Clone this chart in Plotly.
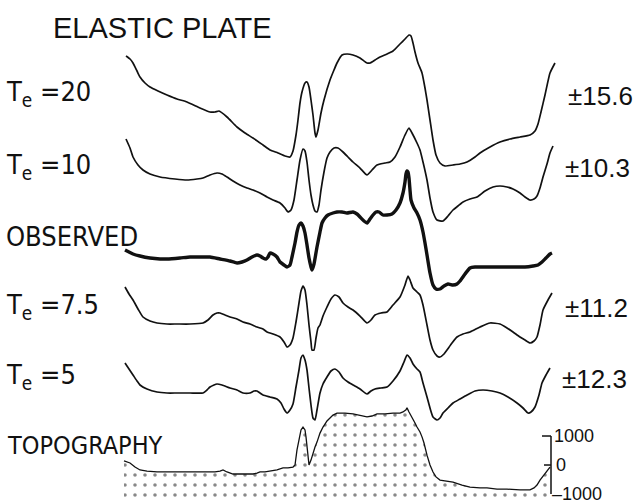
import plotly.graph_objects as go

# Distance along the profile (km) and gravity anomaly (mGal) for each model
te20_km = [1, 5, 8, 12, 15, 20, 25, 33, 42, 52, 62, 75, 85, 90, 94, 102, 112, 120, 128, 138, 145, 153, 160, 165,
           168, 171, 173, 175, 177, 180, 182, 184, 186, 188, 190, 191, 193, 196, 199, 205, 209, 212, 217, 222, 228,
           235, 242, 245, 250, 255, 262, 268, 275, 280, 284, 286, 288, 290, 293, 297, 300, 302, 305, 308, 311, 315,
           320, 328, 335, 342, 350, 355, 365, 375, 385, 395, 405, 410, 413, 416, 420, 425, 430]
te20_mgal = [54, 51, 47, 39, 33, 27, 23, 19, 15, 11, 8, 2, -2, -2, -1, -7, -17, -23, -28, -35, -40, -43, -46, -47,
             -41, -25, -10, 7, 18, 27, 28, 23, 10, -5, -23, -27, -20, -3, 10, 30, 40, 47, 55, 56, 55,
             52, 47, 47, 50, 53, 56, 59, 66, 71, 75, 74, 67, 58, 47, 37, 22, 10, -10, -30, -45, -53,
             -56, -55, -54, -52, -47, -43, -37, -32, -29, -27, -25, -21, -14, -2, 15, 37, 47]

te10_km = [1, 5, 8, 13, 18, 25, 35, 50, 62, 72, 78, 85, 92, 97, 102, 108, 115, 122, 128, 135, 142, 148, 155, 160,
           163, 166, 169, 172, 175, 178, 180, 182, 184, 186, 188, 190, 192, 194, 196, 199, 202, 205, 209, 213, 218,
           223, 228, 235, 242, 247, 252, 260, 265, 270, 275, 280, 284, 287, 292, 295, 298, 302, 305, 308, 312, 318,
           323, 328, 333, 338, 345, 352, 360, 368, 375, 382, 388, 395, 400, 405, 409, 412, 415, 418, 422, 425, 428]
te10_mgal = [41, 32, 23, 15, 10, 6, 3, 1, 0, 1, 2, 5, 7, 6, 3, -1, -5, -8, -10, -13, -17, -20, -23, -28,
             -32, -30, -20, 0, 20, 31, 29, 18, 0, -15, -25, -31, -32, -25, -10, 8, 22, 28, 32, 32, 28,
             23, 18, 12, 5, 10, 15, 17, 18, 23, 33, 45, 52, 47, 37, 30, 18, 0, -18, -32, -40, -41,
             -36, -30, -26, -22, -19, -17, -11, -7, -6, -7, -9, -13, -17, -20, -19, -16, -8, 3, 16, 27, 34]

obs_km = [0, 4, 8, 15, 25, 35, 42, 55, 65, 75, 85, 95, 105, 112, 117, 122, 127, 132, 135, 138, 141, 143, 145, 148,
          152, 155, 159, 162, 165, 167, 170, 172, 174, 176, 178, 180, 182, 184, 186, 187, 189, 192, 195, 197, 200,
          203, 208, 212, 217, 222, 228, 232, 235, 239, 242, 245, 248, 251, 254, 258, 262, 267, 271, 275, 278, 280,
          281, 282, 283, 284, 285, 286, 289, 292, 295, 298, 300, 302, 305, 308, 311, 315, 319, 323, 328, 332, 335,
          340, 345, 350, 362, 375, 388, 400, 408, 413, 417, 421, 425, 427]
obs_mgal = [0, -2, -4, -6, -8, -9, -9, -8, -7, -7, -7, -9, -11, -13, -12, -10, -7, -5, -6, -8, -9, -7, -3, -4,
            -7, -12, -15, -17, -15, -7, 7, 18, 25, 27, 24, 17, 5, -8, -17, -20, -14, 3, 18, 27, 32,
            35, 37, 38, 38, 37, 38, 36, 33, 29, 27, 31, 35, 38, 38, 35, 35, 36, 40, 47, 57, 68,
            76, 79, 78, 72, 60, 50, 42, 37, 30, 18, 7, -5, -23, -35, -39, -39, -36, -34, -35, -34, -31,
            -24, -18, -17, -17, -17, -17, -17, -16, -15, -12, -8, -4, -3]

te75_km = [0, 4, 8, 13, 18, 25, 32, 42, 52, 65, 78, 83, 88, 92, 95, 100, 105, 112, 118, 125, 132, 138, 142, 148,
           155, 159, 162, 165, 168, 171, 174, 176, 178, 180, 182, 184, 186, 187, 189, 191, 193, 195, 198, 202, 206,
           210, 214, 218, 223, 228, 235, 242, 246, 250, 256, 262, 268, 275, 280, 283, 285, 288, 292, 295, 298, 302,
           305, 308, 312, 315, 319, 322, 327, 332, 338, 345, 355, 365, 375, 382, 388, 395, 400, 405, 409, 412, 415,
           418, 423, 427]
te75_mgal = [33, 26, 20, 11, 3, -1, -3, -4, -4, -4, -3, 0, 5, 7, 7, 5, 3, 1, -2, -4, -7, -9, -12, -14,
             -17, -22, -27, -25, -18, -2, 17, 29, 34, 30, 15, -5, -22, -30, -30, -18, -8, -5, 4, 13, 21,
             25, 23, 17, 13, 10, 4, -3, 0, 5, 7, 8, 15, 23, 35, 44, 40, 32, 28, 25, 15, -5,
             -20, -30, -36, -37, -34, -30, -23, -17, -14, -12, -7, -3, -4, -8, -12, -17, -20, -23, -21, -17, -5,
             10, 20, 27]

te5_km = [0, 4, 8, 12, 15, 22, 32, 42, 52, 65, 78, 82, 85, 89, 92, 97, 105, 112, 118, 125, 129, 132, 135, 138,
          145, 152, 156, 159, 162, 165, 168, 171, 174, 176, 178, 180, 182, 184, 186, 188, 190, 192, 195, 198, 202,
          206, 210, 214, 218, 223, 228, 235, 242, 246, 250, 256, 262, 268, 275, 279, 282, 285, 288, 292, 295, 298,
          302, 305, 308, 312, 315, 318, 323, 328, 335, 342, 350, 358, 367, 375, 383, 392, 398, 403, 406, 410, 414,
          417, 421, 425]
te5_mgal = [27, 21, 15, 9, 5, 1, -2, -3, -3, -3, -3, 0, 3, 5, 6, 5, 2, 0, -3, -3, -1, -1, -3, -5,
            -7, -9, -13, -19, -23, -20, -14, 3, 20, 32, 35, 30, 20, 2, -15, -28, -30, -20, -3, 6, 13,
            19, 21, 18, 12, 8, 5, 1, -4, -1, 1, 2, 3, 9, 19, 28, 35, 32, 26, 21, 18, 7,
            -7, -18, -27, -30, -28, -23, -18, -13, -9, -5, -1, 0, -1, -3, -7, -13, -18, -23, -22, -17, -5,
            7, 15, 22]

# Topography (m) along the same profile
topo_km = [-1, 2, 5, 10, 15, 22, 32, 45, 55, 70, 82, 90, 95, 98, 102, 108, 120, 128, 132, 135, 140, 145, 152, 158,
           163, 168, 170, 172, 174, 176, 178, 180, 181, 183, 184, 186, 188, 190, 192, 195, 198, 202, 205, 208, 212,
           220, 228, 235, 242, 247, 252, 260, 268, 275, 278, 281, 282, 284, 287, 290, 292, 295, 297, 299, 302, 305,
           308, 311, 315, 322, 328, 337, 345, 355, 362, 372, 382, 395, 405, 409, 412, 415, 418, 421, 423, 425]
topo_m = [140, 100, 70, -70, -170, -210, -240, -240, -240, -240, -240, -240, -210, -170, -240, -310, -310, -310, -280,
          -240, -240, -210, -170, -100, -100, -70, 0, 520, 930, 1210, 1310, 1210, 970, 340, 0, 170, 410, 620, 790,
          1100, 1310, 1520, 1620, 1720, 1790, 1790, 1760, 1720, 1660, 1690, 1760, 1760, 1790, 1790, 1830, 1900, 1970,
          1830, 1660, 1450, 1310, 1140, 970, 760, 340, 0, -240, -410, -520, -550, -590, -690, -760, -790, -790, -830,
          -830, -860, -860, -790, -690, -520, -380, -240, -140, -70]

# Profile order (top to bottom), labels and rms misfit
profile_names = ["Te = 20", "Te = 10", "Observed", "Te = 7.5", "Te = 5"]
misfits = ["±15.6", "±10.3", None, "±11.2", "±12.3"]
scale_ticks_m = [1000, 0, -1000]

profiles = [
    (te20_km, te20_mgal), (te10_km, te10_mgal), (obs_km, obs_mgal),
    (te75_km, te75_mgal), (te5_km, te5_mgal),
]
stack_offsets = [393, 323, 253, 183, 113]
line_widths = [1.7, 1.7, 3.4, 1.7, 1.7]

INK = "#111111"
W, H = 640, 503
NARROW = "Liberation Sans Narrow, DejaVu Sans Condensed, Liberation Sans, sans-serif"
REGULAR = "Liberation Sans, Arial, sans-serif"

fig = go.Figure()

for (km, mgal), off, lw, name in zip(profiles, stack_offsets, line_widths, profile_names):
    fig.add_trace(go.Scatter(
        x=km, y=[off + g for g in mgal], mode="lines", name=name,
        line=dict(color=INK, width=lw, shape="spline", smoothing=0.5),
        hoverinfo="skip", showlegend=False,
    ))

# stippled topography: fill between a floor and the surface
floor_m = -1300
fig.add_trace(go.Scatter(
    x=[topo_km[0], topo_km[-1]], y=[floor_m, floor_m], yaxis="y2",
    mode="lines", line=dict(width=0, color="rgba(0,0,0,0)"),
    hoverinfo="skip", showlegend=False,
))
fig.add_trace(go.Scatter(
    x=topo_km, y=topo_m, yaxis="y2", mode="lines", fill="tonexty",
    line=dict(color=INK, width=1.3),
    fillcolor="white",
    fillpattern=dict(shape=".", fgcolor=INK, bgcolor="white", size=10, solidity=0.1),
    hoverinfo="skip", showlegend=False,
))

# elevation scale bar
bar_km = 426
fig.add_shape(type="line", xref="x", yref="y2", x0=bar_km, x1=bar_km,
              y0=scale_ticks_m[0], y1=scale_ticks_m[-1], line=dict(color=INK, width=1.5))
fig.add_shape(type="line", xref="x", yref="y2", x0=bar_km - 9, x1=bar_km,
              y0=scale_ticks_m[0], y1=scale_ticks_m[0], line=dict(color=INK, width=1.5))
fig.add_shape(type="line", xref="x", yref="y2", x0=bar_km - 7, x1=bar_km,
              y0=scale_ticks_m[1], y1=scale_ticks_m[1], line=dict(color=INK, width=1.5))
tick_dx = {1000: 1, 0: 3, -1000: -1}
for v in scale_ticks_m:
    fig.add_annotation(x=bar_km + tick_dx[v], y=v, xref="x", yref="y2",
                       text=str(v).replace("-", "\u2013"), showarrow=False, xanchor="left",
                       yanchor="middle", font=dict(family=REGULAR, size=18, color=INK))


def paper(px, py):
    return px / W, 1 - py / H


def label(text, px, py, size, family=NARROW, anchor="left"):
    x, y = paper(px, py)
    fig.add_annotation(x=x, y=y, xref="paper", yref="paper", text=text, showarrow=False,
                       xanchor=anchor, yanchor="middle", font=dict(family=family, size=size, color=INK))


label("ELASTIC PLATE", 51, 28, 29, family=REGULAR)
left_texts = ["T<sub>e</sub> =20", "T<sub>e</sub> =10", "OBSERVED", "T<sub>e</sub> =7.5", "T<sub>e</sub> =5"]
left_y = [93, 166, 236, 306, 376]
for t, py in zip(left_texts, left_y):
    label(t, 4, py, 27)
label("TOPOGRAPHY", 5, 445, 25)

right_y = [96, 168, 308, 379]
right_x = [566, 563, 563, 560]
for m, px, py in zip([m for m in misfits if m], right_x, right_y):
    label(m, px, py, 26, family=REGULAR)

fig.update_layout(
    width=W, height=H, margin=dict(l=0, r=0, t=0, b=0),
    paper_bgcolor="white", plot_bgcolor="white",
    xaxis=dict(range=[-125, 515], visible=False, fixedrange=True),
    yaxis=dict(range=[0, 503], visible=False, fixedrange=True),
    yaxis2=dict(range=[-1310, 16034], overlaying="y", visible=False, fixedrange=True),
)

fig.write_html("out.html")
